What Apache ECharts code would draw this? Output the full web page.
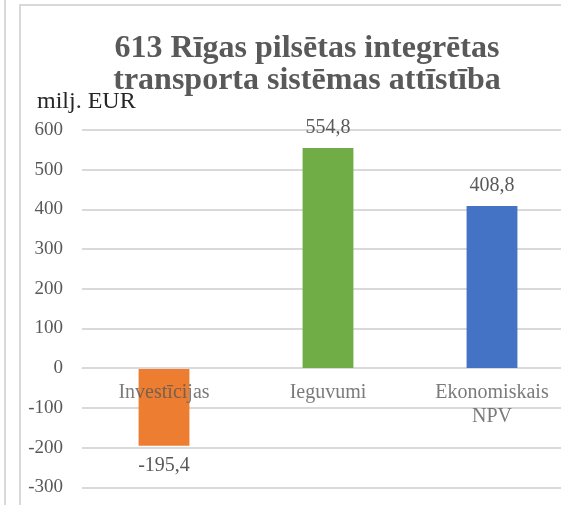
<!DOCTYPE html>
<html>
<head>
<meta charset="utf-8">
<style>
  html, body { margin: 0; padding: 0; background: #fff; }
  #chart { width: 561px; height: 505px; }
</style>
<script src="https://cdn.jsdelivr.net/npm/echarts@6/dist/echarts.min.js"></script>
</head>
<body>
<div id="chart"></div>
<script>
// Categories and values (milj. EUR)
const categories = ['Investīcijas', 'Ieguvumi', 'Ekonomiskais\nNPV'];
const values = [-195.4, 554.8, 408.8];
const barColors = ['#ED7D31', '#70AD47', '#4472C4'];
const yTicks = { min: -300, max: 600, interval: 100 };

const serif = 'Liberation Serif';
const textGray = '#595959';
const lineGray = '#D9D9D9';

const fmt = v => String(v).replace('.', ',');

const chart = echarts.init(document.getElementById('chart'), null, { renderer: 'canvas' });

chart.setOption({
  animation: false,
  backgroundColor: '#fff',
  graphic: [
    // frame of the chart area and the neighbouring panel edge
    { type: 'rect', shape: { x: 20, y: 5, width: 700, height: 700 },
      style: { fill: null, stroke: lineGray, lineWidth: 2 }, silent: true, z: -1 },
    { type: 'line', shape: { x1: 5, y1: 0, x2: 5, y2: 505 },
      style: { stroke: lineGray, lineWidth: 2 }, silent: true, z: -1 }
  ],
  title: {
    text: '613 Rīgas pilsētas integrētas\ntransporta sistēmas attīstība',
    left: 302,
    top: 28,
    textAlign: 'center',
    textStyle: { fontFamily: serif, fontWeight: 'bold', fontSize: 32, lineHeight: 32, color: textGray }
  },
  grid: { left: 82, top: 130, width: 492, height: 357.3, containLabel: false, outerBoundsMode: 'none' },
  xAxis: {
    type: 'category',
    data: categories,
    axisLine: { onZero: true, lineStyle: { color: lineGray, width: 1 } },
    axisTick: { show: false },
    axisLabel: { show: false },
    z: 3
  },
  yAxis: {
    type: 'value',
    min: yTicks.min,
    max: yTicks.max,
    interval: yTicks.interval,
    name: 'milj. EUR',
    nameLocation: 'end',
    nameGap: 16,
    nameTextStyle: { fontFamily: serif, fontSize: 24, color: '#262626', align: 'left', padding: [0, 0, 0, -45] },
    axisLine: { show: false },
    axisTick: { show: false },
    axisLabel: { fontFamily: serif, fontSize: 19, color: textGray, margin: 19 },
    splitLine: { lineStyle: { color: lineGray, width: 2 } }
  },
  series: [
    {
      type: 'bar',
      barWidth: '31%',
      data: values.map((v, i) => ({
        value: v,
        itemStyle: { color: barColors[i] },
        label: { position: v < 0 ? 'bottom' : 'top' }
      })),
      label: {
        show: true,
        distance: 10,
        fontFamily: serif,
        fontSize: 20,
        color: textGray,
        formatter: p => fmt(p.value)
      },
      z: 2
    },
    {
      // category names sit just under the zero line
      type: 'scatter',
      data: categories.map(() => 0),
      symbolSize: 0,
      silent: true,
      label: {
        show: true,
        position: 'bottom',
        distance: 13,
        fontFamily: serif,
        fontSize: 20,
        lineHeight: 24,
        color: textGray,
        formatter: p => categories[p.dataIndex]
      },
      z: 4
    }
  ]
});
</script>
</body>
</html>
